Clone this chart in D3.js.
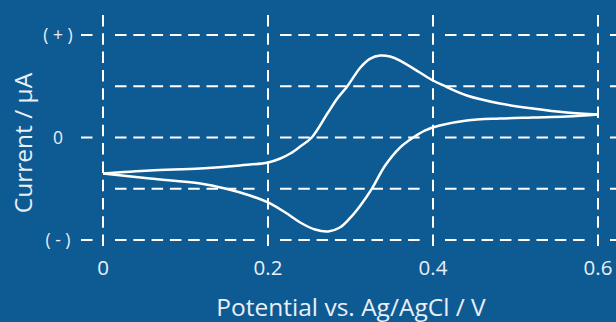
<!DOCTYPE html>
<html>
<head>
<meta charset="utf-8">
<script src="https://cdn.jsdelivr.net/npm/d3@7"></script>
<style>
  html, body { margin: 0; padding: 0; background: #0e5b94; overflow: hidden; }
  text { font-family: "Open Sans", "Noto Sans", sans-serif; fill: #e9eff6; }
</style>
</head>
<body>
<script>
// x axis (potential, V)
const xTicks = [0, 0.2, 0.4, 0.6];
const xTickLabels = ["0", "0.2", "0.4", "0.6"];

// y axis (current, relative units; only sign is labelled)
const yGrid = [-1, -0.5, 0, 0.5, 1];
const yTicks = [-1, 0, 1];
const yTickLabels = ["( - )", "0", "( + )"];

// forward scan 0 -> 0.6 V (upper branch)
const forwardE = [0, 0.057, 0.118, 0.166, 0.2, 0.215, 0.227, 0.239, 0.253, 0.272, 0.284, 0.296,
    0.312, 0.324, 0.336, 0.348, 0.36, 0.384, 0.4, 0.412, 0.441, 0.481, 0.521, 0.562, 0.6];
const forwardI = [-0.351, -0.322, -0.302, -0.273, -0.244, -0.205, -0.156, -0.088, 0, 0.234, 0.38, 0.498,
    0.683, 0.77, 0.8, 0.79, 0.751, 0.634, 0.556, 0.51, 0.41, 0.332, 0.283, 0.244, 0.224];

// reverse scan 0.6 -> 0 V (lower branch)
const reverseE = [0.6, 0.562, 0.521, 0.481, 0.441, 0.408, 0.39, 0.376, 0.36, 0.342, 0.326, 0.312, 0.299,
    0.287, 0.273, 0.257, 0.239, 0.221, 0.2, 0.178, 0.148, 0.118, 0.057, 0];
const reverseI = [0.224, 0.205, 0.195, 0.185, 0.166, 0.117, 0.068, 0, -0.098, -0.273, -0.498, -0.663, -0.79,
    -0.878, -0.917, -0.898, -0.829, -0.732, -0.634, -0.566, -0.498, -0.449, -0.4, -0.351];

const width = 616, height = 322;

const svg = d3.select("body")
    .append("svg")
    .attr("width", width)
    .attr("height", height);

const x = d3.scaleLinear().domain([0, 0.6]).range([103, 598]);
const y = d3.scaleLinear().domain([-1, 1]).range([240, 35]);

const grid = svg.append("g")
    .attr("stroke", "#fff")
    .attr("stroke-width", 2)
    .attr("fill", "none");

// vertical dashed lines
grid.selectAll(".vline")
    .data(xTicks)
    .join("line")
    .attr("x1", d => x(d)).attr("x2", d => x(d))
    .attr("y1", y(1) - 20).attr("y2", y(-1) + 8)
    .attr("stroke-dasharray", "11.5,6.8");

// horizontal dashed lines, broken around each vertical line
const pad = 12;
const bounds = xTicks.map(d => x(d)).concat([width + pad]);
const segs = [];
yGrid.forEach(v => {
    for (let i = 0; i < bounds.length - 1; i++) {
        segs.push({v: v, x1: bounds[i] + pad, x2: bounds[i + 1] - pad});
    }
    // tick stub on the labelled rows
    if (yTicks.includes(v)) segs.push({v: v, x1: x(0) - 22, x2: x(0) - 10});
});
grid.selectAll(".hline")
    .data(segs)
    .join("line")
    .attr("x1", d => d.x1).attr("x2", d => d.x2)
    .attr("y1", d => y(d.v)).attr("y2", d => y(d.v))
    .attr("stroke-dasharray", "11.5,6.8");

// tick labels
svg.append("g")
    .selectAll("text")
    .data(xTicks)
    .join("text")
    .attr("x", d => x(d))
    .attr("y", 275)
    .attr("text-anchor", "middle")
    .attr("font-size", 20.5)
    .text((d, i) => xTickLabels[i]);

svg.append("g")
    .selectAll("text")
    .data(yTicks)
    .join("text")
    .attr("x", 58)
    .attr("y", d => y(d))
    .attr("dy", "0.35em")
    .attr("text-anchor", "middle")
    .attr("font-size", 17.5)
    .attr("xml:space", "preserve")
    .style("white-space", "pre")
    .text((d, i) => yTickLabels[i]);

// axis titles
svg.append("text")
    .attr("x", 351)
    .attr("y", 316)
    .attr("text-anchor", "middle")
    .attr("font-size", 24.5)
    .text("Potential vs. Ag/AgCl / V");

svg.append("text")
    .attr("transform", "translate(32,143) rotate(-90)")
    .attr("text-anchor", "middle")
    .attr("font-size", 24.5)
    .text("Current / µA");

// voltammogram
const line = d3.line()
    .x(d => x(d[0]))
    .y(d => y(d[1]))
    .curve(d3.curveCatmullRom.alpha(0.5));

const fwd = forwardE.map((e, i) => [e, forwardI[i]]);
const rev = reverseE.map((e, i) => [e, reverseI[i]]);

svg.selectAll(".cv")
    .data([fwd, rev])
    .join("path")
    .attr("d", line)
    .attr("fill", "none")
    .attr("stroke", "#fff")
    .attr("stroke-width", 2.5)
    .attr("stroke-linejoin", "round");
</script>
</body>
</html>
